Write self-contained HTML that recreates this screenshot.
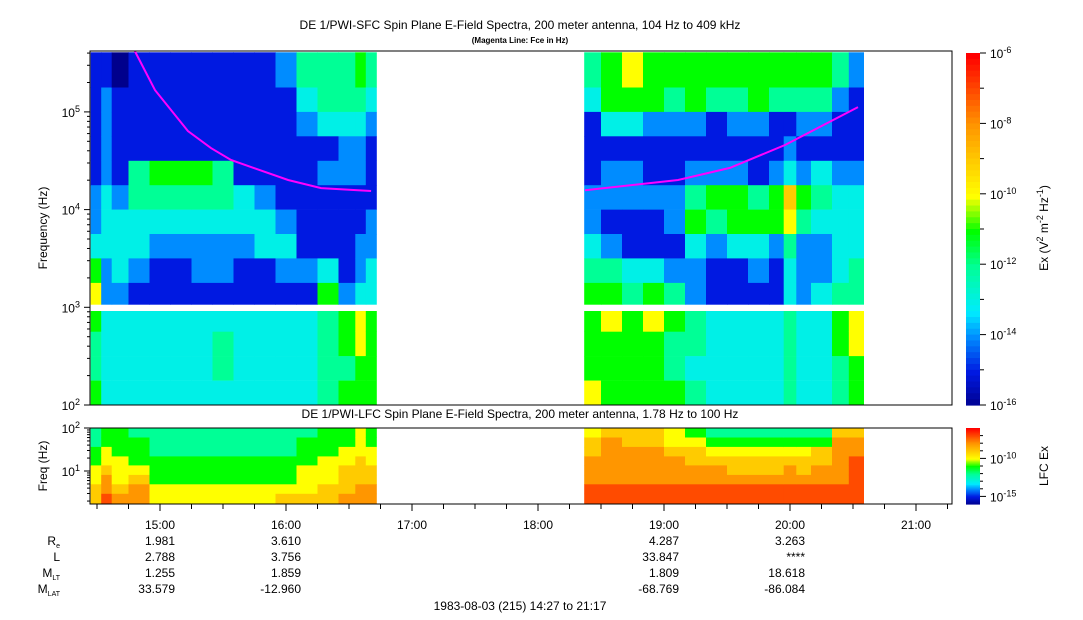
<!DOCTYPE html>
<html><head><meta charset="utf-8"><style>
html,body{margin:0;padding:0;background:#fff;}
svg{display:block;font-family:"Liberation Sans",sans-serif;}
</style></head><body>
<svg id="chart" width="1083" height="620" xmlns="http://www.w3.org/2000/svg">
<rect x="0" y="0" width="1083" height="620" fill="#fff"/>
<text x="520" y="29" font-size="12" text-anchor="middle">DE 1/PWI-SFC  Spin Plane E-Field Spectra, 200 meter antenna, 104 Hz to 409 kHz</text>
<text x="520" y="43" font-size="8" font-weight="bold" text-anchor="middle">(Magenta Line: Fce in Hz)</text>
<text x="520" y="418" font-size="12" text-anchor="middle">DE 1/PWI-LFC  Spin Plane E-Field Spectra, 200 meter antenna, 1.78 Hz to 100 Hz</text>
<g id="upperMarks"></g>
<g id="lowerMarks"></g>
<rect x="90" y="305" width="862" height="6" fill="#fff"/>
<polyline id="fce1" fill="none" stroke="#ff00ff" stroke-width="2"/>
<polyline id="fce2" fill="none" stroke="#ff00ff" stroke-width="2"/>
<rect x="90" y="51" width="862" height="354" fill="none" stroke="#000" stroke-width="1"/>
<rect x="90" y="428" width="862" height="76" fill="none" stroke="#000" stroke-width="1"/>
<g id="axes" font-size="12"></g>
<text transform="translate(47,228) rotate(-90)" font-size="12" text-anchor="middle">Frequency (Hz)</text>
<text transform="translate(47,466) rotate(-90)" font-size="12" text-anchor="middle">Freq (Hz)</text>
<text transform="translate(1048,228) rotate(-90)" font-size="12" text-anchor="middle">Ex (V<tspan baseline-shift="super" font-size="9">2</tspan> m<tspan baseline-shift="super" font-size="9">-2</tspan> Hz<tspan baseline-shift="super" font-size="9">-1</tspan>)</text>
<text transform="translate(1048,466) rotate(-90)" font-size="12" text-anchor="middle">LFC Ex</text>
<g id="ephem" font-size="12"></g>
<text x="520" y="610" font-size="12" text-anchor="middle">1983-08-03 (215) 14:27 to 21:17</text>
</svg>
<script>
// ---- data ----
const seg1Edges = ["14:27","14:32","14:37","14:45","14:55","15:05","15:15","15:25","15:35","15:45","15:55","16:05","16:15","16:25","16:33","16:38","16:43"];
const seg2Edges = ["18:22","18:30","18:40","18:50","19:00","19:10","19:20","19:30","19:40","19:50","19:57","20:03","20:10","20:20","20:28","20:35"];
const upperRowHi = [5.61,5.25,5.0,4.75,4.5,4.25,4.0,3.75,3.5,3.25,2.97,2.75,2.5,2.25];
const upperRowLo = [5.25,5.0,4.75,4.5,4.25,4.0,3.75,3.5,3.25,3.03,2.75,2.5,2.25,2.0];
const lowerRowHi = [2.0,1.78,1.56,1.34,1.13,0.91,0.69,0.47];
const lowerRowLo = [1.78,1.56,1.34,1.13,0.91,0.69,0.47,0.23];
const seg1Upper = ["11111223565445","12222333223333","01111233323333","11114433213333","11115432113333","11115432113333","11115432213333","11114432213443","11111332113333","11111233113333","21111123213333","43211111213333","44312111354444","44322111125545","54322112236655","43211122335555"];
const seg2Upper = ["43111223455556","55312212456555","65312211345555","55211211356555","54211221245445","55212453224434","54112542113333","54212553113333","55211453213333","54112552113333","54123764334444","54212542223333","54213432233333","42112333345544","21112333446655"];
const seg1Lower = ["44556677","55667889","55566678","45556788","44455566","44455566","44455566","44455566","44455566","44455566","44455567","45556667","55566677","55667778","66677788","55667788"];
const seg2Lower = ["67788899","78888899","77888899","77888899","66788899","56778899","45678899","45677899","45677899","45677899","45678899","45677899","45778899","78888899","78899999"];
const fce1Times = ["14:48","14:57.6","15:13.3","15:24.3","15:33.8","16:01","16:16.7","16:40.5"];
const fce1Vals = [420000,167000,63700,42600,32200,20100,16600,15500];
const fce2Times = ["18:22.4","19:06.7","19:31.4","19:57.6","20:32.4"];
const fce2Vals = [15800,20100,26700,45800,112000];
const hourTicks = ["15:00","16:00","17:00","18:00","19:00","20:00","21:00"];
const ephemTimes = ["15:00","16:00","19:00","20:00"];
const ephemRe = ["1.981","3.610","4.287","3.263"];
const ephemL = ["2.788","3.756","33.847","****"];
const ephemMLT = ["1.255","1.859","1.809","18.618"];
const ephemMLAT = ["33.579","-12.960","-68.769","-86.084"];
const cbTicks = [-6,-8,-10,-12,-14,-16];
const lcbTicks = [-10,-15];

// ---- scales ----
const NS="http://www.w3.org/2000/svg";
function tmin(s){const p=s.split(":");return +p[0]*60+ +p[1];}
function xT(s){return 160+(tmin(s)-900)/60*126;}
function yU(lf){return Math.max(51,405-(lf-2)*97.7);}
function yL(lf){return Math.min(504,428+(2-lf)*43);}
const stops=[[0,[0,0,140]],[0.1,[0,25,225]],[0.2,[0,140,255]],[0.27,[0,235,255]],[0.4,[0,255,150]],[0.5,[0,255,0]],[0.6,[255,255,0]],[0.8,[255,150,0]],[1,[255,0,0]]];
function cmap(t){t=Math.max(0,Math.min(1,t));for(let i=1;i<stops.length;i++){if(t<=stops[i][0]){const a=stops[i-1],b=stops[i],f=(t-a[0])/(b[0]-a[0]);return "rgb("+a[1].map((v,k)=>Math.round(v+(b[1][k]-v)*f)).join(",")+")";}}return "rgb(255,0,0)";}
function mk(tag,attrs,parent){const e=document.createElementNS(NS,tag);for(const k in attrs)e.setAttribute(k,attrs[k]);parent.appendChild(e);return e;}

function drawSpec(edges,cols,hi,lo,yf,g,name){
  cols.forEach((col,ci)=>{
    const x0=xT(edges[ci]),x1=xT(edges[ci+1]);
    for(let r=0;r<col.length;r++){
      const y0=yf(hi[r]),y1=yf(lo[r]);
      const e=mk("rect",{x:x0.toFixed(1),y:y0.toFixed(1),width:(x1-x0+0.5).toFixed(1),height:(y1-y0+0.3).toFixed(1),fill:cmap(+col[r]/10)},g);
      
      
    }
  });
}
const ug=document.getElementById("upperMarks"),lg=document.getElementById("lowerMarks");
drawSpec(seg1Edges,seg1Upper,upperRowHi,upperRowLo,yU,ug,"sfc-cell");
drawSpec(seg2Edges,seg2Upper,upperRowHi,upperRowLo,yU,ug,"sfc-cell");
drawSpec(seg1Edges,seg1Lower,lowerRowHi,lowerRowLo,yL,lg,"lfc-cell");
drawSpec(seg2Edges,seg2Lower,lowerRowHi,lowerRowLo,yL,lg,"lfc-cell");

function fcePts(ts,vs){return ts.map((t,i)=>xT(t).toFixed(1)+","+yU(Math.log10(vs[i])).toFixed(1)).join(" ");}
document.getElementById("fce1").setAttribute("points",fcePts(fce1Times,fce1Vals));
document.getElementById("fce2").setAttribute("points",fcePts(fce2Times,fce2Vals));

const ax=document.getElementById("axes");
function ln(x1,y1,x2,y2,name){const e=mk("line",{x1,y1,x2,y2,stroke:"#000","stroke-width":1},ax);}
function pow(x,y,base,exp,anchor,name,size){const t=mk("text",{x,y,"text-anchor":anchor,"font-size":size||12},ax);t.appendChild(document.createTextNode(base));const s=mk("tspan",{"baseline-shift":"super","font-size":9},t);s.textContent=exp;return t;}
for(let d=2;d<=5;d++){
  const y=yU(d);ln(84,y,90,y,"y-major-tick");pow(80,y+5,"10",String(d),"end","y-tick-label");
  for(let m=2;m<10;m++){const lf=d+Math.log10(m);if(lf>5.61)break;const yy=yU(lf);ln(87,yy,90,yy,"y-minor-tick");}
}
for(const d of [2,1]){const y=yL(d);ln(84,y,90,y,"lower-y-major-tick");pow(80,y+5,"10",String(d),"end","lower-y-tick-label");}
for(const d of [0,1]){for(let m=2;m<10;m++){const lf=d+Math.log10(m);if(lf<0.23)continue;const yy=yL(lf);ln(87,yy,90,yy,"lower-y-minor-tick");}}
for(let m=870;m<=1275;m+=15){const x=160+(m-900)/60*126;if(x<91||x>951)continue;const major=(m%60==0);ln(x,504,x,major?511:509,major?"x-major-tick":"x-minor-tick");}
hourTicks.forEach(h=>{const t=mk("text",{x:xT(h),y:529,"text-anchor":"middle"},ax);t.textContent=h;});
function cbar(y0,y1,name){const n=60;for(let i=0;i<n;i++){const t=1-i/n;const e=mk("rect",{x:966,y:(y0+(y1-y0)*i/n).toFixed(2),width:14,height:((y1-y0)/n+0.6).toFixed(2),fill:cmap(t)},ax);}}
cbar(53,405,"colorbar-segment");cbar(428,504,"lower-colorbar-segment");
function yCB(v){return 53+(-6-v)/10*352;}
function yLCB(v){return 428+(-6-v)/10*76;}
cbTicks.forEach(v=>{const y=yCB(v);ln(980,y,986,y,"colorbar-tick");pow(990,y+5,"10",String(v),"start","colorbar-tick-label");});
for(let v=-7;v>-16;v-=2){const y=yCB(v);ln(980,y,984,y,"colorbar-minor-tick");}
lcbTicks.forEach(v=>{const y=yLCB(v);ln(980,y,986,y,"lower-colorbar-tick");pow(990,y+5,"10",String(v),"start","lower-colorbar-tick-label");});
for(let v=-7;v>-16;v-=1){if(v==-10||v==-15)continue;const y=yLCB(v);ln(980,y,983,y,"lower-colorbar-minor-tick");}
const eg=document.getElementById("ephem");
const rowY=[545,561,577,593];
const labs=[["R","e"],["L",""],["M","LT"],["M","LAT"]];
labs.forEach((l,i)=>{const t=mk("text",{x:60,y:rowY[i],"text-anchor":"end"},eg);t.appendChild(document.createTextNode(l[0]));if(l[1]){const s=mk("tspan",{"font-size":7,dy:3},t);s.textContent=l[1];}});
[ephemRe,ephemL,ephemMLT,ephemMLAT].forEach((arr,i)=>{arr.forEach((v,j)=>{const t=mk("text",{x:xT(ephemTimes[j])+15,y:rowY[i],"text-anchor":"end"},eg);t.textContent=v;});});
</script>
</body></html>
